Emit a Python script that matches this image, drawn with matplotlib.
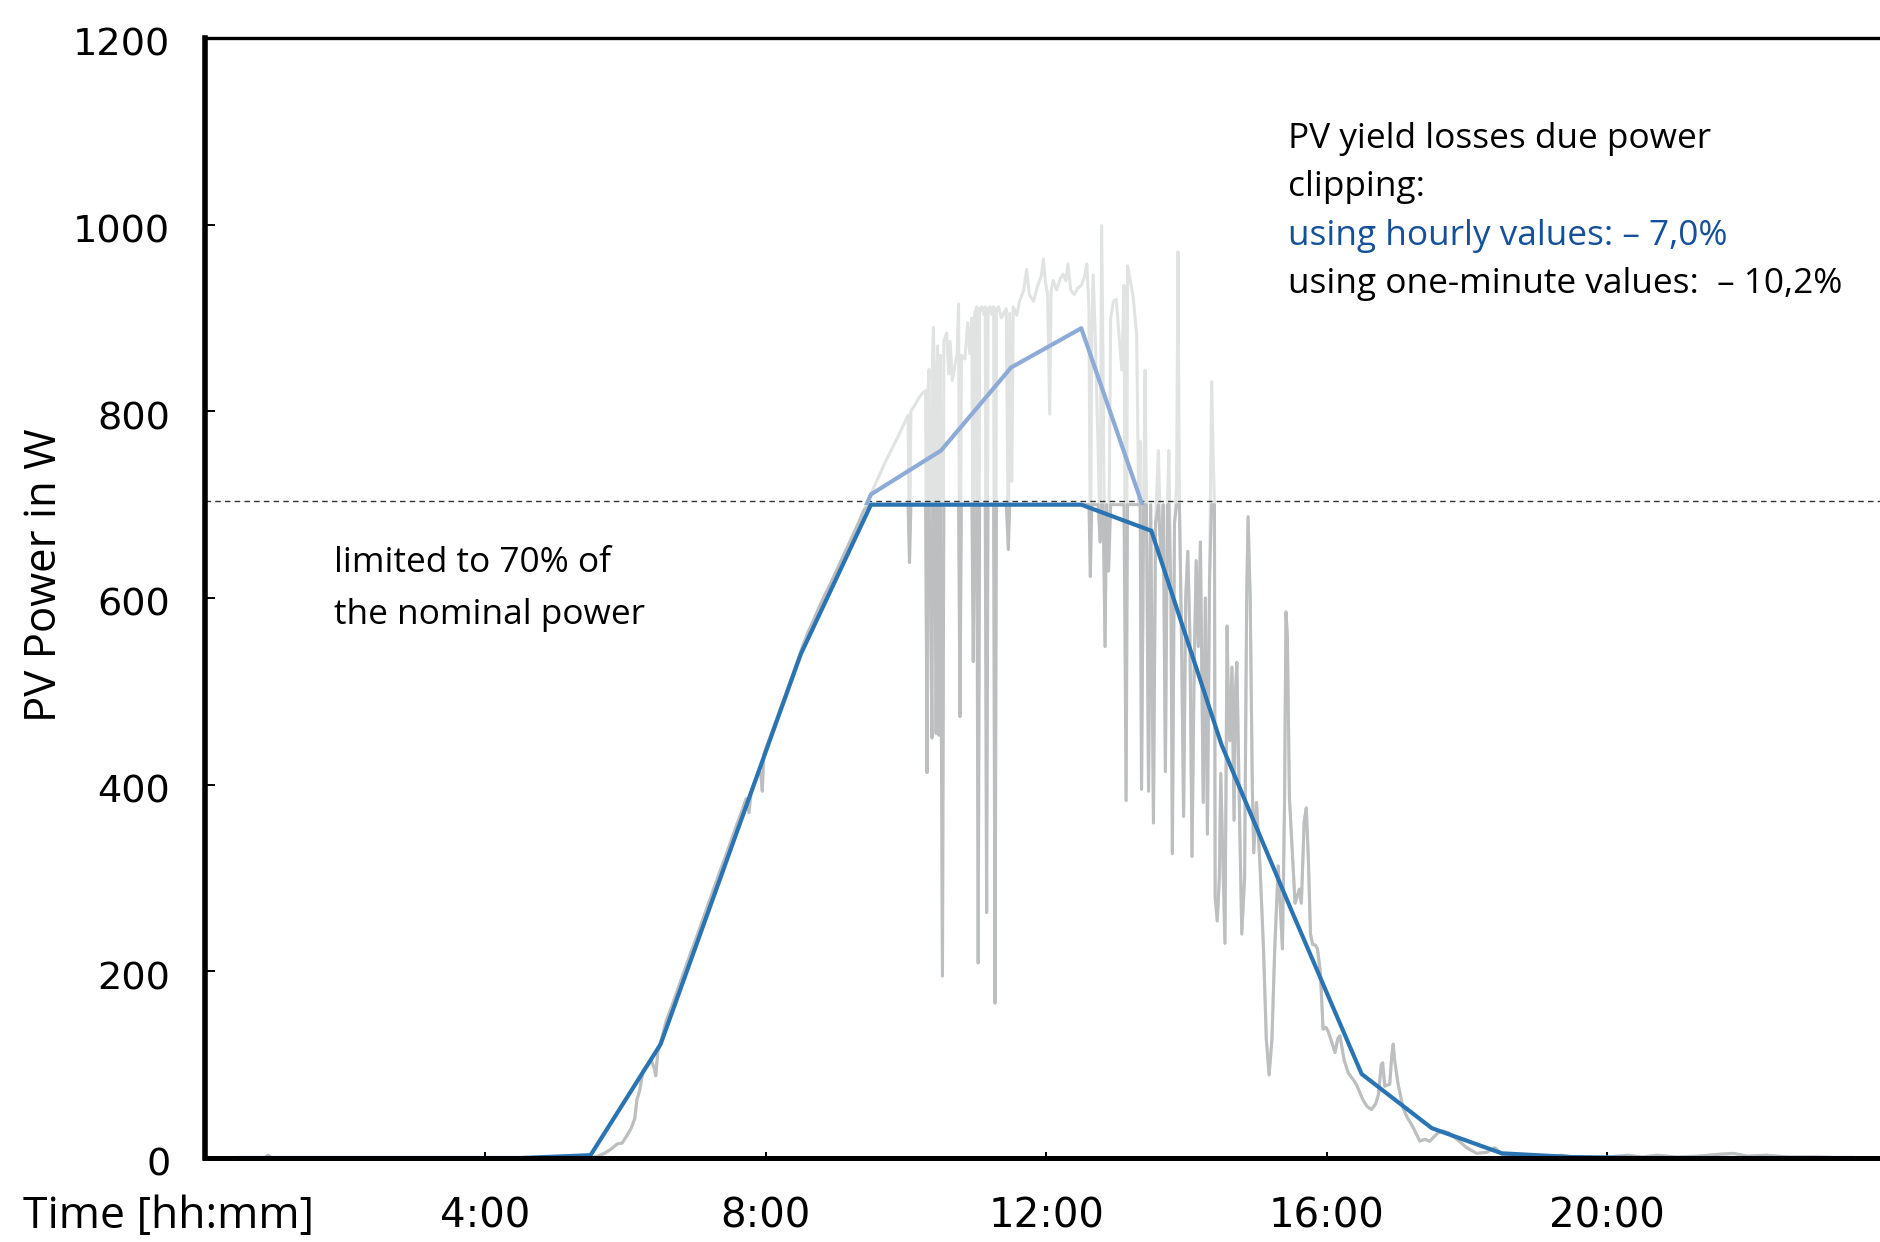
import numpy as np
import matplotlib
matplotlib.use("Agg")
import matplotlib.pyplot as plt
from matplotlib.patches import Rectangle
from matplotlib.transforms import ScaledTranslation

# ---------------- data ----------------
LIMIT_W = 700          # 70 % of nominal power
NOMINAL_70_LINE = 704  # dashed reference line

hour_marks = [0.5, 1.5, 2.5, 3.5, 4.5, 5.5, 6.5, 7.5, 8.5, 9.5, 10.5, 11.5,
              12.5, 13.5, 14.5, 15.5, 16.5, 17.5, 18.5, 19.5, 20.5, 21.5, 22.5, 23.5]
hourly_w = [0, 0, 0, 0, 0, 3, 122, 331, 540, 711, 758, 847,
            889, 672, 443, 265, 90, 32, 5, 1, 0, 0, 0, 0]

xtick_hours = [4, 8, 12, 16, 20]
xtick_labels = ["4:00", "8:00", "12:00", "16:00", "20:00"]
ytick_values = [0, 200, 400, 600, 800, 1000, 1200]

morning = [
    (0.00, 0), (0.85, 0), (0.90, 3), (0.95, 0), (5.50, 0), (5.60, 2), (5.70, 5),
    (5.80, 10), (5.88, 15), (5.95, 16), (6.02, 24), (6.08, 32), (6.13, 42),
    (6.16, 62), (6.20, 72), (6.25, 94), (6.30, 98), (6.37, 104), (6.41, 96),
    (6.43, 88), (6.46, 114), (6.50, 124), (6.58, 147), (6.67, 165), (6.75, 182),
    (6.83, 199), (6.92, 218), (7.00, 234), (7.08, 251), (7.17, 270), (7.25, 287),
    (7.33, 304), (7.42, 322), (7.50, 339), (7.58, 356), (7.66, 372), (7.72, 385),
    (7.76, 370), (7.79, 392), (7.84, 403), (7.90, 415), (7.93, 410), (7.95, 393),
    (7.97, 432), (8.03, 445), (8.12, 463), (8.20, 480), (8.28, 496), (8.36, 513),
    (8.44, 530), (8.52, 547), (8.60, 563), (8.68, 576), (8.76, 590), (8.84, 603),
    (8.92, 615), (9.00, 628), (9.08, 641), (9.16, 654), (9.24, 667), (9.32, 680),
    (9.40, 694), (9.48, 708), (9.55, 720),
]

midday = [
    (9.60, 728), (9.70, 745), (9.80, 760), (9.90, 775), (9.98, 788), (10.03, 796),
    (10.05, 638), (10.07, 800), (10.12, 806), (10.18, 814), (10.24, 820),
    (10.28, 822), (10.30, 413), (10.31, 815), (10.33, 845), (10.35, 600),
    (10.37, 450), (10.38, 860), (10.39, 890), (10.41, 830), (10.43, 455),
    (10.45, 870), (10.47, 453), (10.49, 860), (10.52, 195), (10.54, 875),
    (10.58, 884), (10.61, 840), (10.63, 875), (10.66, 833), (10.70, 850),
    (10.73, 862), (10.75, 915), (10.77, 473), (10.79, 860), (10.84, 856),
    (10.88, 895), (10.91, 862), (10.94, 900), (10.96, 532), (10.98, 905),
    (11.01, 912), (11.03, 209), (11.05, 910), (11.08, 912), (11.11, 904),
    (11.13, 912), (11.15, 263), (11.17, 910), (11.20, 912), (11.22, 904),
    (11.25, 912), (11.27, 166), (11.29, 910), (11.32, 912), (11.36, 900),
    (11.40, 906), (11.43, 910), (11.46, 652), (11.48, 905), (11.51, 725),
    (11.53, 912), (11.58, 903), (11.62, 918), (11.68, 930), (11.72, 952),
    (11.76, 925), (11.82, 918), (11.88, 935), (11.93, 945), (11.96, 963),
    (11.99, 938), (12.02, 925), (12.05, 797), (12.07, 930), (12.10, 940),
    (12.15, 930), (12.20, 942), (12.24, 947), (12.28, 940), (12.31, 958),
    (12.35, 930), (12.40, 925), (12.45, 932), (12.50, 935), (12.55, 945),
    (12.58, 958), (12.61, 910), (12.63, 623), (12.65, 880), (12.67, 946),
    (12.70, 880), (12.74, 760), (12.77, 660), (12.79, 999), (12.81, 863),
    (12.84, 548), (12.86, 700), (12.89, 629), (12.92, 900), (12.96, 918),
    (13.00, 920), (13.04, 880), (13.08, 844), (13.11, 935), (13.14, 383),
    (13.16, 956), (13.20, 940), (13.24, 923), (13.29, 882), (13.32, 700),
    (13.34, 768), (13.36, 395), (13.39, 700), (13.41, 844), (13.43, 700),
    (13.46, 393), (13.49, 700), (13.53, 359), (13.56, 680), (13.60, 758),
    (13.64, 640), (13.67, 700), (13.70, 414), (13.73, 700), (13.75, 758),
    (13.78, 600), (13.80, 326), (13.83, 680), (13.86, 720), (13.88, 971),
    (13.90, 700), (13.93, 560), (13.96, 366), (13.99, 600), (14.02, 650),
    (14.05, 560), (14.08, 323), (14.11, 520), (14.14, 640), (14.17, 548),
    (14.20, 660), (14.24, 381), (14.27, 600), (14.30, 347), (14.33, 620),
    (14.36, 832), (14.38, 760), (14.40, 700),
]

afternoon = [
    (14.41, 280), (14.44, 254), (14.47, 300), (14.49, 412), (14.52, 320),
    (14.55, 230), (14.58, 570), (14.60, 480), (14.62, 447), (14.65, 526),
    (14.68, 362), (14.70, 500), (14.72, 531), (14.75, 400), (14.79, 240),
    (14.83, 300), (14.86, 600), (14.88, 687), (14.91, 600), (14.94, 400),
    (14.96, 327), (15.00, 381), (15.05, 313), (15.10, 224), (15.14, 127),
    (15.18, 89), (15.22, 127), (15.26, 224), (15.31, 313), (15.37, 224),
    (15.40, 380), (15.42, 585), (15.44, 560), (15.47, 385), (15.51, 330),
    (15.55, 273), (15.58, 280), (15.61, 288), (15.64, 273), (15.68, 360),
    (15.71, 375), (15.74, 320), (15.77, 240), (15.80, 229), (15.84, 228),
    (15.87, 224), (15.91, 200), (15.95, 138), (15.99, 140), (16.02, 136),
    (16.07, 125), (16.12, 113), (16.16, 128), (16.19, 131), (16.25, 105),
    (16.31, 91), (16.37, 85), (16.43, 78), (16.52, 62), (16.58, 55),
    (16.64, 52), (16.70, 58), (16.74, 68), (16.78, 100), (16.80, 102),
    (16.83, 77), (16.90, 79), (16.93, 110), (16.95, 122), (16.97, 105),
    (17.02, 79), (17.09, 54), (17.14, 45), (17.24, 32), (17.33, 18),
    (17.40, 20), (17.47, 18), (17.59, 27), (17.66, 29), (17.74, 27),
    (17.86, 20), (18.00, 11), (18.14, 5), (18.28, 6), (18.40, 11),
    (18.52, 3), (18.70, 1), (19.00, 0), (19.35, 3), (19.50, 1), (20.00, 1),
    (20.30, 3), (20.50, 1), (20.71, 3), (21.00, 1), (21.30, 2), (21.60, 4),
    (21.80, 5), (22.00, 2), (22.28, 3), (22.60, 1), (23.00, 1), (23.50, 0),
    (24.00, 0),
]

# ---------------- colours / fonts ----------------
GRAY_LIGHT = "#e1e2e2"
GRAY_DARK = "#bdbebf"
BLUE = "#2b74b3"
BLUE_LIGHT = "#8eabd8"
TEXT_BLUE = "#15519a"
TXT_FONT = ["Open Sans", "DejaVu Sans"]
TICK_FONT = ["DejaVu Sans"]

W, H = 1881, 1242
fig = plt.figure(figsize=(W / 100, H / 100), dpi=100)
fig.patch.set_facecolor("white")

x0, x24 = 205, 205 + 70.1 * 24
y0, y1200 = 1158, 38
ax = fig.add_axes([x0 / W, 1 - y0 / H, (x24 - x0) / W, (y0 - y1200) / H])
ax.set_xlim(0, 24)
ax.set_ylim(0, 1200)

minute = np.array(morning + midday + afternoon, dtype=float)
t_min, w_min = minute[:, 0], minute[:, 1]

ax.plot(t_min, w_min, color=GRAY_LIGHT, lw=2.2, zorder=1, solid_joinstyle="round")
ax.plot(t_min, np.minimum(w_min, LIMIT_W), color=GRAY_DARK, lw=2.2, zorder=2,
        solid_joinstyle="round")

ax.axhline(NOMINAL_70_LINE, color="#333333", lw=1.0, ls=(0, (4, 3)), zorder=3)

hm = np.array(hour_marks)
hw = np.array(hourly_w, dtype=float)
(light,) = ax.plot(hm, hw, color=BLUE_LIGHT, lw=3.0, zorder=4)
clip = Rectangle((0, LIMIT_W), 24, 1000, transform=ax.transData)
light.set_clip_path(clip)
ax.plot(hm, np.minimum(hw, LIMIT_W), color=BLUE, lw=3.0, zorder=5)

# spines
ax.spines["right"].set_visible(False)
ax.spines["left"].set_linewidth(4.0)
ax.spines["bottom"].set_linewidth(3.6)
ax.spines["top"].set_linewidth(2.4)
for s in ax.spines.values():
    s.set_color("black")
    s.set_zorder(6)

ax.set_xticks(xtick_hours)
ax.set_xticklabels(xtick_labels)
ax.set_yticks(ytick_values)
ax.set_yticklabels([str(v) for v in ytick_values])
ax.tick_params(axis="y", direction="in", length=7, width=1.4, pad=25,
               labelsize=27.5)
ax.tick_params(axis="x", direction="in", length=4, width=1.4, pad=28,
               labelsize=29)
shift = ScaledTranslation(0, -2.7 / 72, fig.dpi_scale_trans)
for lab in ax.get_xticklabels():
    lab.set_family(TICK_FONT)
for lab in ax.get_yticklabels():
    lab.set_family(TICK_FONT)
    lab.set_transform(lab.get_transform() + shift)

# axis titles
fig.text(45 / W, 1 - 575 / H, "PV Power in W", rotation=90, ha="center",
         va="center", fontsize=31.5, family=TXT_FONT)
fig.text(23 / W, 1 - 1228 / H, "Time [hh:mm]", ha="left", va="baseline",
         fontsize=32, family=TXT_FONT)

# annotations
fig.text(334 / W, 1 - 572 / H, "limited to 70% of", ha="left", va="baseline",
         fontsize=25.4, family=TXT_FONT)
fig.text(334 / W, 1 - 624 / H, "the nominal power", ha="left", va="baseline",
         fontsize=25.4, family=TXT_FONT)

tx = 1288 / W
fig.text(tx, 1 - 148 / H, "PV yield losses due power", ha="left",
         va="baseline", fontsize=25.4, family=TXT_FONT)
fig.text(tx, 1 - 196 / H, "clipping:", ha="left", va="baseline",
         fontsize=25.4, family=TXT_FONT)
fig.text(tx, 1 - 245 / H, "using hourly values: \u2013 7,0%", ha="left",
         va="baseline", fontsize=25.4, family=TXT_FONT, color=TEXT_BLUE)
fig.text(tx, 1 - 293 / H, "using one-minute values:  \u2013 10,2%", ha="left",
         va="baseline", fontsize=25.4, family=TXT_FONT)

fig.savefig("out.png", dpi=100, facecolor="white")
